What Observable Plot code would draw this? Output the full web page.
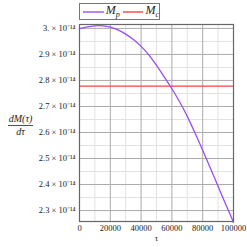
<!DOCTYPE html>
<html><head><meta charset="utf-8">
<script src="https://cdn.jsdelivr.net/npm/d3@7"></script>
<script src="https://cdn.jsdelivr.net/npm/@observablehq/plot@0.6"></script>
<style>
body{margin:0;background:#fff;font-family:"Liberation Serif","Times New Roman",serif;}
#legend{height:22px;position:relative;}
#legend .box{position:absolute;left:79px;top:3px;width:79px;height:15px;border:1px solid #777;display:flex;align-items:center;font-size:12px;font-style:italic;color:#222;}
#legend svg{margin:0 2px 0 3px;}
#legend sub{font-size:8px;}
</style></head>
<body>
<div id="legend"></div>
<div id="chart"></div>
<script>
const tau = [0,5000,10000,15000,20000,25000,30000,35000,40000,45000,50000,55000,60000,65000,70000,75000,80000,85000,90000,95000,100000];
const Mp = [2.999,3.006,3.010,3.010,3.005,2.994,2.978,2.957,2.931,2.898,2.858,2.814,2.768,2.718,2.662,2.598,2.532,2.463,2.393,2.323,2.255].map(v=>v*1e-14);
const McValue = 2.778e-14;
const xTicks = [0,20000,40000,60000,80000,100000];
const xMinor = [10000,30000,50000,70000,90000];
const yTicks = [2.3,2.4,2.5,2.6,2.7,2.8,2.9,3.0].map(v=>v*1e-14);
const yMinor = [2.35,2.45,2.55,2.65,2.75,2.85,2.95].map(v=>v*1e-14);
const seriesNames = ["p","c"];
const colors = ["#9b4cf6","#f24444"];

const data = tau.map((t,i)=>({tau:t, v:Mp[i]}));
const sup = {"-":"⁻","0":"⁰","1":"¹","2":"²","3":"³","4":"⁴","5":"⁵","6":"⁶","7":"⁷","8":"⁸","9":"⁹"};
const fmtY = d => {
  const m = Math.round(d*1e15)/10;
  const s = Number.isInteger(m) ? m + "." : String(m);
  return s + " × 10" + "-14".split("").map(c=>sup[c]).join("");
};

document.getElementById("legend").innerHTML =
  '<div class="box">' + seriesNames.map((n,i)=>
    `<svg width="21" height="4"><line x1="0" x2="21" y1="2" y2="2" stroke="${colors[i]}" stroke-width="1.4"/></svg><span>M<sub>${n}</sub></span>`).join("") + '</div>';

const serif = '"Liberation Serif","Times New Roman",serif';
const plot = Plot.plot({
  width:247, height:225,
  marginLeft:79, marginRight:14, marginTop:2, marginBottom:26,
  style:{fontFamily:serif, fontSize:"8.5px", color:"#222", background:"#fff"},
  x:{domain:[0,100000]},
  y:{domain:[2.258e-14,3.015e-14]},
  marks:[
    Plot.ruleX(xMinor,{stroke:"#e2e2e2"}),
    Plot.ruleY(yMinor,{stroke:"#e2e2e2"}),
    Plot.ruleX(xTicks,{stroke:"#aaaaaa"}),
    Plot.ruleY(yTicks,{stroke:"#aaaaaa"}),
    Plot.axisX(xTicks,{tickSize:0,tickPadding:3,tickFormat:d=>String(d),label:"τ",labelAnchor:"center",labelOffset:19,labelArrow:"none",fontFamily:serif}),
    Plot.axisY(yTicks,{tickSize:0,tickPadding:4,tickFormat:fmtY,label:null,fontFamily:serif}),
    Plot.ruleY([McValue],{stroke:colors[1],strokeWidth:1.3}),
    Plot.line(data,{x:"tau",y:"v",stroke:colors[0],strokeWidth:1.3,curve:"natural"}),
    Plot.frame({stroke:"#666",strokeWidth:1.2}),
    Plot.text(["dM(τ)"],{frameAnchor:"left",textAnchor:"middle",dx:-59,dy:-4,text:d=>d,fontStyle:"italic",fontSize:10,fontFamily:serif}),
    Plot.text(["dτ"],{frameAnchor:"left",textAnchor:"middle",dx:-59,dy:9,text:d=>d,fontStyle:"italic",fontSize:10,fontFamily:serif})
  ]
});
document.getElementById("chart").appendChild(plot);
// fraction bar for y label
const svg = d3.select(plot);
const fy = (2 + 199)/2 + 3;
svg.append("line").attr("x1",8).attr("x2",33).attr("y1",fy).attr("y2",fy).attr("stroke","#222").attr("stroke-width",0.8);
</script>
</body></html>
